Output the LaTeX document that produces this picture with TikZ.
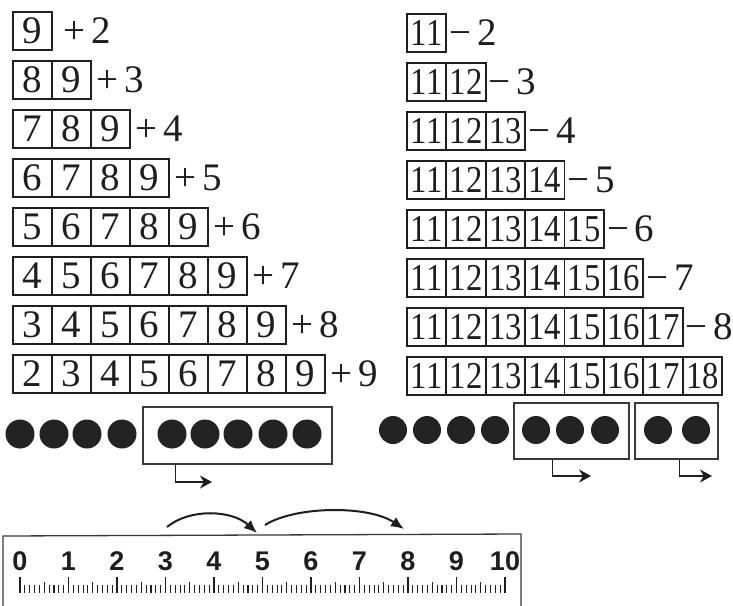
\documentclass[tikz,border=0pt]{standalone}
\usepackage{fontspec}
\setmainfont{Liberation Serif}
\newfontfamily\rulerfont{Liberation Sans}
\usetikzlibrary{arrows.meta}
\definecolor{ink}{HTML}{1E1E1E}
\definecolor{dotc}{HTML}{232323}
\definecolor{rulc}{HTML}{3A3A3A}
\begin{document}
\begin{tikzpicture}[x=1pt,y=-1pt,
  numbox/.style={draw=ink,line width=1.8pt,minimum width=39pt,minimum height=38pt,
    inner sep=0pt,anchor=north west,text=ink,font=\fontsize{39}{39}\selectfont},
  rnumbox/.style={numbox,minimum width=39.4pt,font=\fontsize{38}{38}\selectfont},
  lbl/.style={inner sep=0pt,anchor=west,text=ink,font=\fontsize{39}{39}\selectfont},
  dot/.style={circle,fill=dotc,minimum size=29pt,inner sep=0pt},
  grpbox/.style={draw=rulc,line width=1.3pt,inner sep=0pt},
  shiftarrow/.style={draw=ink,line width=1.5pt,-{Stealth[length=12pt,width=13pt]}},
  jumparrow/.style={draw=ink,line width=2pt,-{Latex[length=13pt,width=11pt]}},
  rulnum/.style={inner sep=0pt,text=ink,font=\rulerfont\bfseries\fontsize{27}{27}\selectfont},
]
\useasboundingbox (0,0) rectangle (733,605);
\fill[white] (0,0) rectangle (733,605);

% ---------- left column: additions ----------
\foreach \i in {0,...,7}{
  \pgfmathtruncatemacro\n{\i+1}
  \pgfmathsetmacro\ytop{11+49*\i}
  \foreach \j in {1,...,\n}{
    \pgfmathtruncatemacro\v{9-\n+\j}
    \node[numbox] (L\i-\j) at ({12+39*(\j-1)},\ytop) {\v};
  }
  \pgfmathtruncatemacro\a{\i+2}
  \ifnum\i=0
    \node[lbl] (Lp\i) at ([xshift=10pt]L\i-\n.east) {+\hspace{7pt}\a};
  \else
    \node[lbl] (Lp\i) at ([xshift=4pt]L\i-\n.east) {+\hspace{7pt}\a};
  \fi
}

% ---------- right column: subtractions ----------
\foreach \i in {0,...,7}{
  \pgfmathtruncatemacro\n{\i+1}
  \pgfmathsetmacro\ytop{13+49*\i}
  \foreach \j in {1,...,\n}{
    \pgfmathtruncatemacro\v{10+\j}
    \node[rnumbox] (R\i-\j) at ({406+39.4*(\j-1)},\ytop) {\scalebox{0.86}[1]{\v}};
  }
  \ifnum\i<7
    \pgfmathtruncatemacro\a{\i+2}
    \node[lbl] (Rm\i) at ([xshift=2pt]R\i-\n.east) {−\hspace{6pt}\a};
  \fi
}

% ---------- counters, left ----------
\foreach \x [count=\k] in {20,54,87,122,172,205,238,273,307}
  \node[dot] (cl\k) at (\x,434) {};
\node[grpbox,minimum width=189pt,minimum height=57pt] (gl) at (237.5,435.5) {};
\coordinate (gla) at (212,482);
\draw[shiftarrow] ([xshift=33pt]gl.south west) |- (gla);

% ---------- counters, right ----------
\foreach \x [count=\k] in {393,427,461,495,536,570,605,658,696}
  \node[dot,minimum size=28pt] (cr\k) at (\x,430) {};
\node[grpbox,minimum width=115pt,minimum height=56pt] (gr1) at (571.5,431) {};
\node[grpbox,minimum width=83pt,minimum height=56pt] (gr2) at (676.5,431) {};
\coordinate (gr1a) at (591,476);
\coordinate (gr2a) at (712,476);
\draw[shiftarrow] ([xshift=39pt]gr1.south west) |- (gr1a);
\draw[shiftarrow] ([xshift=45pt]gr2.south west) |- (gr2a);

% ---------- ruler ----------
\draw[rulc,line width=1.3pt] (3,612) -- (3,536) -- (521,534) -- (521,612);
\foreach \k in {0,...,100}{
  \pgfmathsetmacro\xx{20+4.85*\k}
  \pgfmathtruncatemacro\m{mod(\k,10)}
  \pgfmathtruncatemacro\h{mod(\k,5)}
  \ifnum\m=0
    \draw[ink,line width=1.3pt] (\xx,577) -- (\xx,593);
  \else\ifnum\h=0
    \draw[ink,line width=1.1pt] (\xx,582) -- (\xx,593);
  \else
    \draw[ink,line width=1.1pt] (\xx,585) -- (\xx,593);
  \fi\fi
}
\foreach \k in {0,...,10}
  \node[rulnum] (r\k) at ({20+48.5*\k},561) {\k};

\coordinate (j1s) at (167,527);
\coordinate (j1e) at (257,533);
\coordinate (j2s) at (265,525);
\coordinate (j2e) at (404,529);
\draw[jumparrow] (j1s) .. controls (190,508) and (232,510) .. (j1e);
\draw[jumparrow] (j2s) .. controls (295,506) and (368,505) .. (j2e);
\end{tikzpicture}
\end{document}
